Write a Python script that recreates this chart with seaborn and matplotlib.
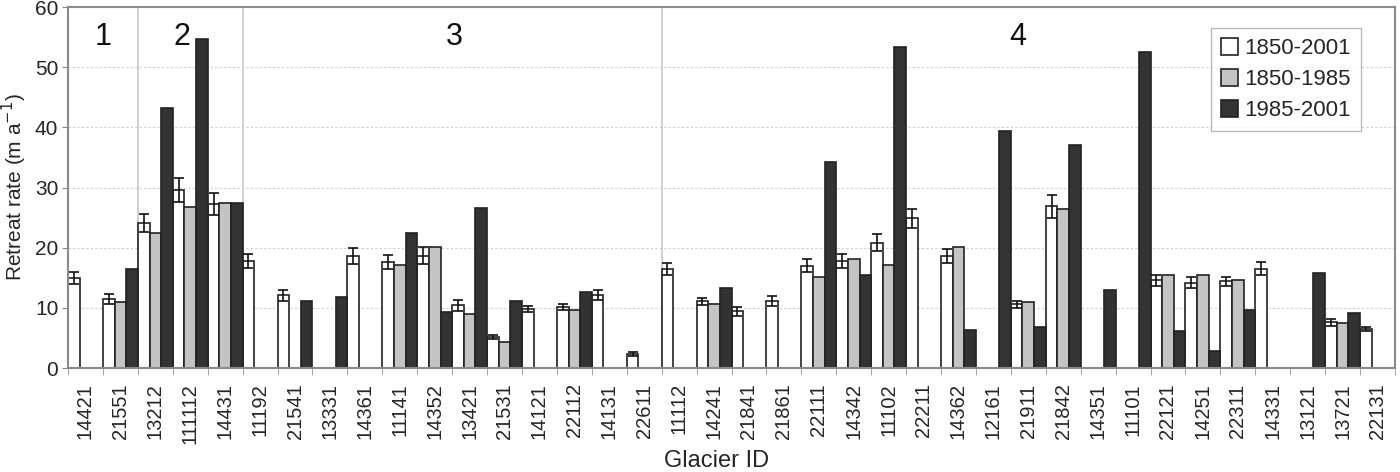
import matplotlib
matplotlib.use("Agg")
import matplotlib.pyplot as plt
import seaborn as sns
import numpy as np
import pandas as pd

nan = np.nan

glacier_ids = ["14421", "21551", "13212", "111112", "14431", "11192", "21541", "13331",
               "14361", "11141", "14352", "13421", "21531", "14121", "22112", "14131",
               "22611", "11112", "14241", "21841", "21861", "22111", "14342", "11102",
               "22211", "14362", "12161", "21911", "21842", "14351", "11101", "22121",
               "14251", "22311", "14331", "13121", "13721", "22131"]

periods = ["1850-2001", "1850-1985", "1985-2001"]

rate_1850_2001 = [15.0, 11.5, 24.1, 29.6, 27.3, 17.8, 12.1, nan, 18.6, 17.6, 18.7, 10.4, 5.2,
                  9.8, 10.2, 12.1, 2.3, 16.4, 11.1, 9.4, 11.1, 17.0, 17.8, 20.8, 24.9, 18.6,
                  nan, 10.6, 26.9, nan, nan, 14.6, 14.2, 14.4, 16.5, nan, 7.6, 6.5]
err_1850_2001 = [1.0, 0.8, 1.5, 2.0, 1.8, 1.1, 0.9, nan, 1.3, 1.2, 1.4, 0.9, 0.3,
                 0.5, 0.5, 0.8, 0.3, 1.0, 0.6, 0.7, 0.8, 1.1, 1.1, 1.4, 1.6, 1.2,
                 nan, 0.6, 1.9, nan, nan, 0.9, 0.9, 0.8, 1.1, nan, 0.6, 0.3]
rate_1850_1985 = [nan, 11.0, 22.4, 26.8, 27.5, nan, nan, nan, nan, 17.1, 20.2, 8.9, 4.4,
                  nan, 9.7, nan, nan, nan, 10.7, nan, nan, 15.2, 18.1, 17.1, nan, 20.2,
                  nan, 11.0, 26.4, nan, nan, 15.4, 15.4, 14.7, nan, nan, 7.5, nan]
rate_1985_2001 = [nan, 16.5, 43.3, 54.7, 27.5, nan, 11.2, 11.8, nan, 22.5, 9.3, 26.6, 11.2,
                  nan, 12.6, nan, nan, nan, 13.3, nan, nan, 34.2, 15.4, 53.4, nan, 6.4,
                  39.4, 6.9, 37.1, 12.9, 52.5, 6.2, 2.9, 9.6, nan, 15.8, 9.1, nan]

# region labels and separators (in category units)
region_names = ["1", "2", "3", "4"]
region_label_x = [0.5, 2.75, 10.55, 26.7]
region_bounds = [1.5, 4.5, 16.5]

colors = ["white", "#c4c4c4", "#333333"]

rows = []
for series, period in zip([rate_1850_2001, rate_1850_1985, rate_1985_2001], periods):
    for gid, v in zip(glacier_ids, series):
        if not np.isnan(v):
            rows.append({"Glacier ID": gid, "rate": v, "period": period})
df = pd.DataFrame(rows)

sns.set_style("white")
plt.rcParams["font.family"] = ["Liberation Sans", "DejaVu Sans"]

fig = plt.figure(figsize=(14, 4.72), dpi=100)
ax = fig.add_axes([0.0486, 0.2203, 0.9478, 0.7647])

# grid behind bars
for yv in [10, 20, 30, 40, 50]:
    ax.axhline(yv, color="#cfcfcf", lw=0.8, ls=(0, (2, 2)), zorder=0)
for xb in region_bounds:
    ax.axvline(xb, color="#c8c8c8", lw=1.2, zorder=0)

sns.barplot(data=df, x="Glacier ID", y="rate", hue="period",
            order=glacier_ids, hue_order=periods, palette=colors,
            width=1, edgecolor="#222222", linewidth=1.2, ax=ax, zorder=2)

# error bars on the 1850-2001 bars
xs, ys, es = [], [], []
for p in ax.containers[0]:
    cx = p.get_x() + p.get_width() / 2
    i = int(round(cx))
    xs.append(cx)
    ys.append(rate_1850_2001[i])
    es.append(err_1850_2001[i])
ax.errorbar(xs, ys, yerr=es, fmt="none", ecolor="#111111", elinewidth=1.2,
            capsize=3.5, capthick=1.2, zorder=3)

for name, xl in zip(region_names, region_label_x):
    ax.text(xl, 55, name, ha="center", va="center", fontsize=22, color="#111111")

ax.set_ylim(0, 60)
ax.set_xlim(-0.5, len(glacier_ids) - 0.5)
ax.set_yticks([0, 10, 20, 30, 40, 50, 60])
ax.tick_params(axis="y", labelsize=15, length=4, color="#888888", direction="out", left=True, pad=3)
ax.tick_params(axis="x", labelsize=14.5, rotation=90, length=0, pad=11)
ax.set_xticks(np.arange(len(glacier_ids) + 1) - 0.5, minor=True)
ax.tick_params(axis="x", which="minor", length=5, color="#999999", bottom=True, direction="out")

ax.set_ylabel("Retreat rate (m a$^{-1}$)", fontsize=15, labelpad=4)
ax.set_xlabel("Glacier ID", fontsize=17)
ax.xaxis.set_label_coords(0.489, -0.228)

for s in ax.spines.values():
    s.set_color("#8a8a8a")
    s.set_linewidth(1.5)

leg = ax.legend(loc="upper right", bbox_to_anchor=(0.983, 0.972), fontsize=16,
                frameon=True, fancybox=False, edgecolor="#aaaaaa", handlelength=0.75,
                handleheight=0.75, handletextpad=0.3, borderpad=0.45, labelspacing=0.45)
leg.get_frame().set_linewidth(1.0)
leg.set_title(None)

fig.savefig("out.png", dpi=100)
